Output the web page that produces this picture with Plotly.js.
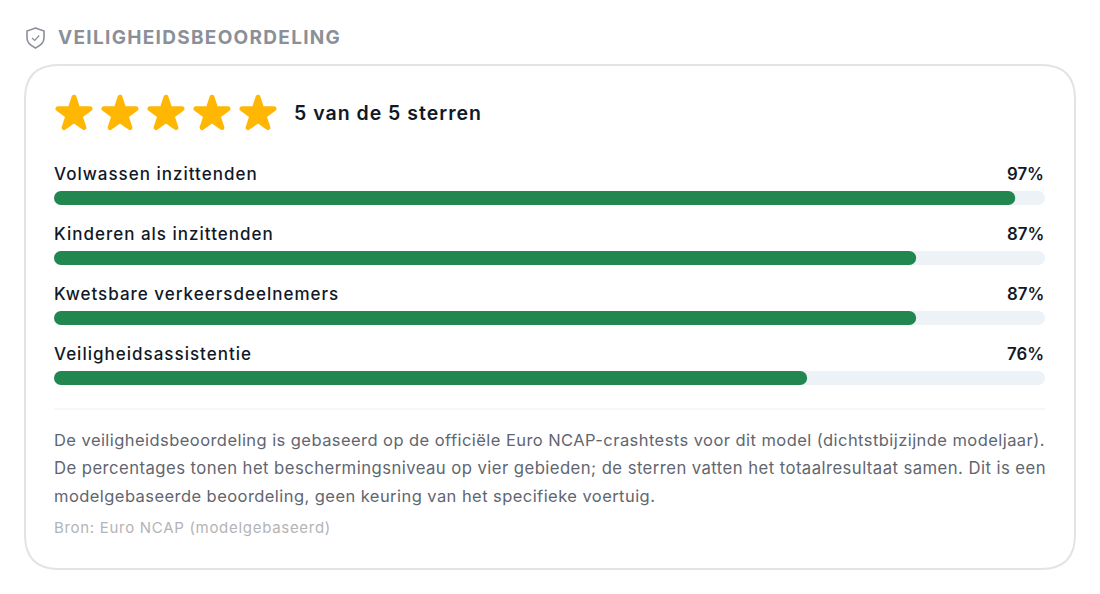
<!DOCTYPE html>
<html>
<head>
<meta charset="utf-8">
<script src="https://cdn.plot.ly/plotly-3.0.1.min.js"></script>
<style>
html, body { margin: 0; padding: 0; background: #fff; }
#chart { width: 1100px; height: 594px; }
/* no letter spacing option on annotations, so go by font size.
   not scoped to #chart, plotly measures text in a tester outside it */
text[style*="font-size: 19px"] { letter-spacing: 1.3px; }
text[style*="font-size: 19.5px"] { letter-spacing: 1px; }
text[style*="font-size: 17px"] { letter-spacing: 1px; }
text[style*="font-size: 16.5px"] { letter-spacing: 0.44px; }
text[style*="font-size: 16.7px"] { letter-spacing: 0.44px; }
text[style*="font-size: 15px"] { letter-spacing: 0.7px; }
#chart .scatterlayer .point { stroke-linejoin: round; }
</style>
</head>
<body>
<div id="chart"></div>
<script>
const categories = ["Volwassen inzittenden", "Kinderen als inzittenden", "Kwetsbare verkeersdeelnemers", "Veiligheidsassistentie"];
const scores = [97, 87, 87, 76];
const trackValues = [100, 100, 100, 100];
const barBase = [0, 0, 0, 0];
const stars = [1, 2, 3, 4, 5];
const starRow = [1, 1, 1, 1, 1];

const heading = "VEILIGHEIDSBEOORDELING";
const starsLabel = "5 van de 5 sterren";
const noteLines = [
    "De veiligheidsbeoordeling is gebaseerd op de officiële Euro NCAP-crashtests voor dit model (dichtstbijzijnde modeljaar).",
    "De percentages tonen het beschermingsniveau op vier gebieden; de sterren vatten het totaalresultaat samen. Dit is een",
    "modelgebaseerde beoordeling, geen keuring van het specifieke voertuig."
];
const noteY = [440, 468, 496];
const noteSize = [16.5, 16.7, 16.5];
const source = "Bron: Euro NCAP (modelgebaseerd)";

const W = 1100, H = 594;
const FONT = "Inter, sans-serif";
const GREEN = "#22874f", TRACK = "#edf2f7", STAR = "#ffb703";
const px = x => (x / W).toFixed(5);
const py = y => (1 - y / H).toFixed(5);

function label(text, x, y, size, color, weight) {
    return {
        text: text, xref: "paper", yref: "paper", x: x / W, y: 1 - y / H,
        xanchor: "left", yanchor: "middle", showarrow: false,
        font: {family: FONT, size: size, color: color, weight: weight || 400}
    };
}

function cardPath(x0, y0, x1, y1, r) {
    return "M" + px(x0 + r) + "," + py(y0) + " L" + px(x1 - r) + "," + py(y0) +
        " Q" + px(x1) + "," + py(y0) + " " + px(x1) + "," + py(y0 + r) +
        " L" + px(x1) + "," + py(y1 - r) +
        " Q" + px(x1) + "," + py(y1) + " " + px(x1 - r) + "," + py(y1) +
        " L" + px(x0 + r) + "," + py(y1) +
        " Q" + px(x0) + "," + py(y1) + " " + px(x0) + "," + py(y1 - r) +
        " L" + px(x0) + "," + py(y0 + r) +
        " Q" + px(x0) + "," + py(y0) + " " + px(x0 + r) + "," + py(y0) + " Z";
}

const shieldPath = "M" + px(35.5) + "," + py(28) +
    " L" + px(44) + "," + py(31) + " L" + px(44) + "," + py(38) +
    " Q" + px(44) + "," + py(44) + " " + px(35.5) + "," + py(48) +
    " Q" + px(27) + "," + py(44) + " " + px(27) + "," + py(38) +
    " L" + px(27) + "," + py(31) + " Z";
const checkPath = "M" + px(32) + "," + py(38) + " L" + px(34.7) + "," + py(40.5) + " L" + px(39.2) + "," + py(35.5);

// giving a base makes plotly round both ends of the bar
function barTrace(values, color, xa, ya) {
    return {
        type: "bar", orientation: "h", x: values, base: barBase, y: categories,
        xaxis: xa, yaxis: ya, marker: {color: color}, hoverinfo: "skip"
    };
}

var starMarks = {
    type: "scatter", mode: "markers", x: stars, y: starRow, xaxis: "x2", yaxis: "y2",
    marker: {symbol: "star", size: 24, color: STAR, line: {color: STAR, width: 5}},
    hoverinfo: "skip"
};

var data = [
    barTrace(trackValues, TRACK, "x", "y"),
    // score bars on their own axes, otherwise the overlay leaves them square
    barTrace(scores, GREEN, "x3", "y3"),
    starMarks
];

var annotations = [
    label(heading, 56, 37, 19, "#8a8f98", 700),
    label(starsLabel, 292, 113, 19.5, "#111827", 600),
    label(source, 52, 527, 15, "#b3b4b6")
];
noteLines.forEach((t, i) => annotations.push(label(t, 52, noteY[i], noteSize[i], "#5f6670")));
categories.forEach((c, i) => {
    annotations.push({
        text: c, xref: "x", yref: "y", x: 0, y: c, xshift: -2, yshift: 24.5, xanchor: "left", yanchor: "middle",
        showarrow: false, font: {family: FONT, size: 17, color: "#111827", weight: 500}
    });
    annotations.push({
        text: scores[i] + "%", xref: "x", yref: "y", x: 100, y: c, xshift: 1, yshift: 24.5, xanchor: "right", yanchor: "middle",
        showarrow: false, font: {family: FONT, size: 16.8, color: "#111827", weight: 600}
    });
});

const xDomain = [54 / W, 1045 / W];
const yDomain = [1 - 408 / H, 1 - 168 / H];

var layout = {
    width: W, height: H,
    margin: {l: 0, r: 0, t: 0, b: 0},
    paper_bgcolor: "#ffffff", plot_bgcolor: "rgba(0,0,0,0)",
    showlegend: false,
    barmode: "overlay",
    bargap: 1 - 14 / 60,
    barcornerradius: 7,
    xaxis: {domain: xDomain, range: [0, 100], visible: false, fixedrange: true},
    yaxis: {domain: yDomain, type: "category", categoryorder: "array", categoryarray: categories,
        range: [3.5, -0.5], visible: false, fixedrange: true},
    xaxis3: {domain: xDomain, range: [0, 100], visible: false, fixedrange: true, anchor: "y3"},
    yaxis3: {domain: yDomain, type: "category", categoryorder: "array", categoryarray: categories,
        range: [3.5, -0.5], visible: false, fixedrange: true, anchor: "x3"},
    xaxis2: {domain: [51 / W, 281 / W], range: [0.5, 5.5], visible: false, fixedrange: true, anchor: "y2"},
    yaxis2: {domain: [1 - 134 / H, 1 - 94 / H], range: [0, 2], visible: false, fixedrange: true, anchor: "x2"},
    shapes: [
        {type: "path", path: cardPath(25, 65, 1075, 569, 34), xref: "paper", yref: "paper", fillcolor: "#ffffff", line: {color: "#e1e3e6", width: 2}, layer: "below"},
        {type: "line", xref: "paper", yref: "paper", x0: 54 / W, x1: 1045 / W, y0: 1 - 409 / H, y1: 1 - 409 / H, line: {color: "#eceef1", width: 1}, layer: "below"},
        {type: "path", path: shieldPath, xref: "paper", yref: "paper", line: {color: "#8a8f98", width: 1.6}},
        {type: "path", path: checkPath, xref: "paper", yref: "paper", line: {color: "#8a8f98", width: 1.2}}
    ],
    annotations: annotations
};

Plotly.newPlot("chart", data, layout, {displayModeBar: false, staticPlot: true});
</script>
</body>
</html>
